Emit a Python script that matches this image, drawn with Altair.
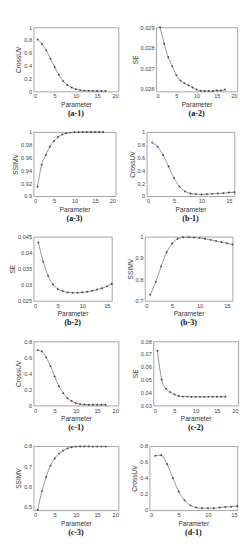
import altair as alt
import pandas as pd

# ---- data ----
a1_x = list(range(1, 18))
a1_y = [0.81, 0.74, 0.64, 0.51, 0.38, 0.26, 0.16, 0.10, 0.06, 0.035, 0.02, 0.012, 0.01, 0.008, 0.007, 0.006, 0.006]

a2_x = list(range(1, 18))
a2_y = [0.0290, 0.0282, 0.02754, 0.02711, 0.02667, 0.02641, 0.02628, 0.02618, 0.02607,
        0.02597, 0.02591, 0.0259, 0.0259, 0.0259, 0.02592, 0.02592, 0.02597]

a3_x = list(range(1, 18))
a3_y = [0.9146, 0.949, 0.964, 0.977, 0.986, 0.992, 0.996, 0.998, 0.999, 0.9995,
        0.9997, 0.9998, 0.9998, 0.9998, 0.9998, 0.9998, 0.9998]

b1_x = list(range(1, 17))
b1_y = [0.834, 0.77, 0.64, 0.46, 0.28, 0.15, 0.073, 0.04, 0.03, 0.025, 0.03, 0.035, 0.04, 0.045, 0.055, 0.06]

b2_x = list(range(1, 17))
b2_y = [0.0432, 0.0372, 0.0327, 0.0301, 0.0286, 0.0280, 0.0276, 0.0275, 0.0275, 0.0276,
        0.0278, 0.0281, 0.0285, 0.0289, 0.0295, 0.0303]

b3_x = list(range(1, 17))
b3_y = [0.728, 0.788, 0.861, 0.927, 0.968, 0.990, 0.997, 0.997, 0.996, 0.994, 0.990,
        0.985, 0.980, 0.974, 0.969, 0.963]

c1_x = list(range(1, 18))
c1_y = [0.689, 0.673, 0.60, 0.49, 0.362, 0.24, 0.154, 0.09, 0.055, 0.028, 0.016, 0.012,
        0.008, 0.008, 0.008, 0.008, 0.008]

c2_x = list(range(1, 18))
c2_y = [0.0726, 0.0500, 0.0431, 0.0404, 0.0386, 0.0374, 0.0369, 0.0369, 0.0367, 0.0367,
        0.0367, 0.0367, 0.0367, 0.0368, 0.0368, 0.0368, 0.0368]

c3_x = list(range(1, 18))
c3_y = [0.485, 0.577, 0.647, 0.703, 0.738, 0.762, 0.777, 0.788, 0.794, 0.797, 0.798,
        0.798, 0.798, 0.797, 0.797, 0.797, 0.797]

d1_x = list(range(1, 16))
d1_y = [0.678, 0.685, 0.575, 0.40, 0.232, 0.122, 0.059, 0.032, 0.024, 0.024, 0.024,
        0.032, 0.039, 0.043, 0.051]

x_ticks_20 = [0, 5, 10, 15, 20]
x_ticks_15 = [0, 5, 10, 15]

LINE = "#8f8f8f"
MARK = "#444444"
H = 68


def panel(xs, ys, ytitle, ydom, yticks, xdom, xticks, caption, width):
    df = pd.DataFrame({"Parameter": xs, "v": ys})
    base = alt.Chart(df).encode(
        x=alt.X("Parameter:Q",
                scale=alt.Scale(domain=xdom, nice=False, zero=False),
                axis=alt.Axis(values=xticks, title="Parameter", format="~g")),
        y=alt.Y("v:Q",
                scale=alt.Scale(domain=ydom, nice=False, zero=False),
                axis=alt.Axis(values=yticks, title=ytitle, format="~g")),
    )
    line = base.mark_line(color=LINE, strokeWidth=1, interpolate="monotone")
    pts = base.mark_point(shape="circle", filled=True, size=4, color=MARK, opacity=1)
    cap = alt.Chart(pd.DataFrame({"cap": [caption]})).mark_text(
        font="Liberation Serif", fontSize=8.5, fontWeight="bold", color="#111",
        baseline="top", align="center",
    ).encode(text="cap:N", x=alt.value(width / 2), y=alt.value(H + 19))
    return alt.layer(line, pts, cap).properties(width=width, height=H)


pa1 = panel(a1_x, a1_y, "CrossUV", [0, 1], [0, 0.2, 0.4, 0.6, 0.8, 1], [0, 20], x_ticks_20, "(a-1)", 90)
pa2 = panel(a2_x, a2_y, "SE", [0.02588, 0.0290], [0.026, 0.027, 0.028, 0.029], [0, 20], x_ticks_20, "(a-2)", 86)
pa3 = panel(a3_x, a3_y, "SSIMV", [0.9, 1.0], [0.9, 0.92, 0.94, 0.96, 0.98, 1], [0, 20], x_ticks_20, "(a-3)", 87)
pb1 = panel(b1_x, b1_y, "CrossUV", [0, 1], [0, 0.2, 0.4, 0.6, 0.8, 1], [0, 16], x_ticks_15, "(b-1)", 93)
pb2 = panel(b2_x, b2_y, "SE", [0.025, 0.045], [0.025, 0.03, 0.035, 0.04, 0.045], [0, 16], x_ticks_15, "(b-2)", 83)
pb3 = panel(b3_x, b3_y, "SSIMV", [0.7, 1.0], [0.7, 0.8, 0.9, 1], [0, 16], x_ticks_15, "(b-3)", 93)
pc1 = panel(c1_x, c1_y, "CrossUV", [0, 0.8], [0, 0.2, 0.4, 0.6, 0.8], [0, 20], x_ticks_20, "(c-1)", 90)
pc2 = panel(c2_x, c2_y, "SE", [0.03, 0.08], [0.03, 0.04, 0.05, 0.06, 0.07, 0.08], [0, 20], x_ticks_20, "(c-2)", 90)
pc3 = panel(c3_x, c3_y, "SSIMV", [0.483, 0.8], [0.5, 0.6, 0.7, 0.8], [0, 20], x_ticks_20, "(c-3)", 90)
pd1 = panel(d1_x, d1_y, "CrossUV", [0, 0.8], [0, 0.2, 0.4, 0.6, 0.8], [0, 15], x_ticks_15, "(d-1)", 93)

rows = [
    alt.hconcat(pa1, pa2, spacing=12),
    alt.hconcat(pa3, pb1, spacing=12),
    alt.hconcat(pb2, pb3, spacing=12),
    alt.hconcat(pc1, pc2, spacing=12),
    alt.hconcat(pc3, pd1, spacing=12),
]

chart = alt.vconcat(*rows, spacing=11).configure(
    padding=0, background="white"
).configure_view(
    stroke="#a0a0a0", strokeWidth=1
).configure_axis(
    grid=False, domain=False, ticks=False,
    labelFont="Liberation Sans", titleFont="Liberation Sans",
    labelFontSize=6, titleFontSize=7, labelColor="#444", titleColor="#333",
    titleFontWeight="normal", labelPadding=2, titlePadding=2,
)

chart.save("out.html", embed_options={"renderer": "svg", "actions": False})
